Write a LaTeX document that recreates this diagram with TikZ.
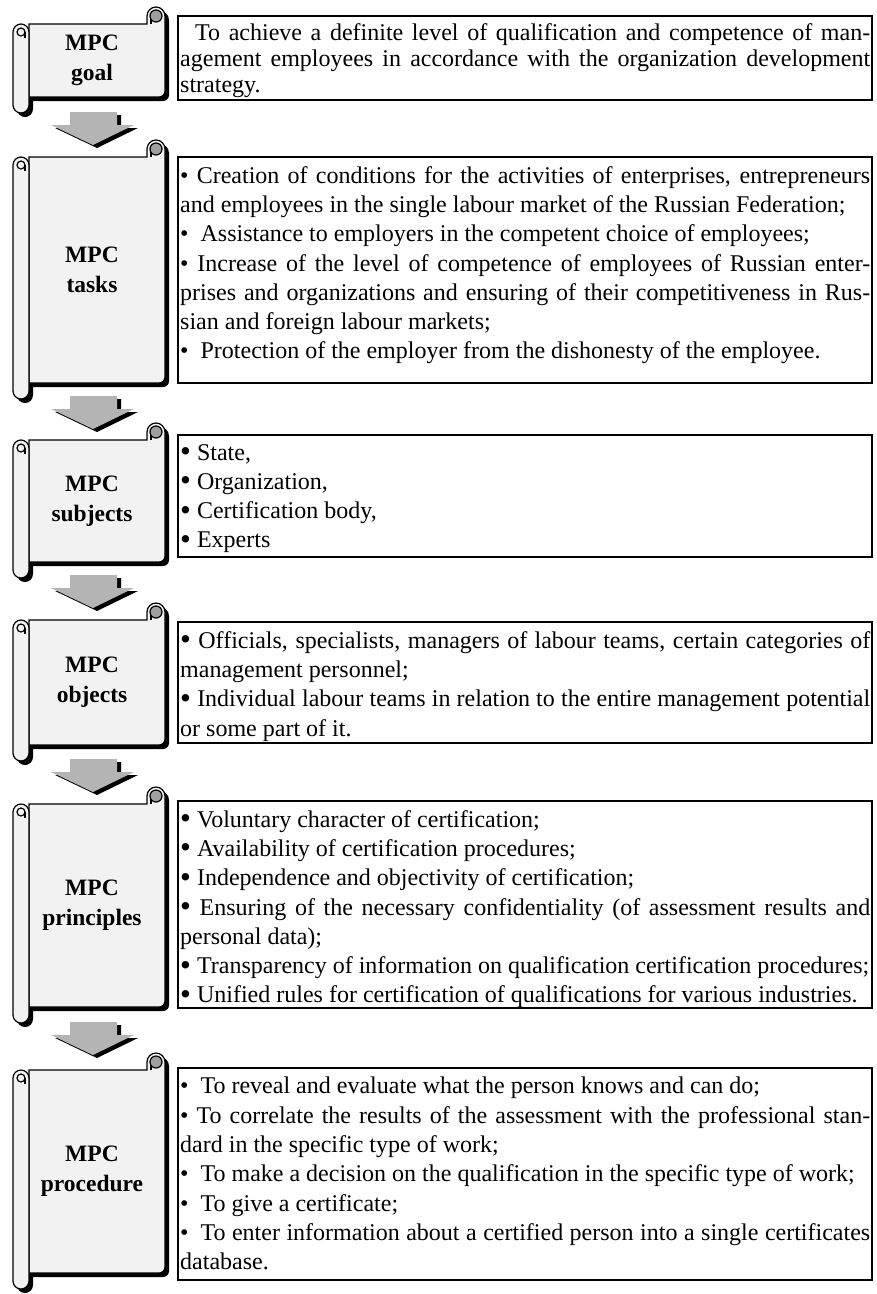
\documentclass[tikz,border=0pt]{standalone}
\usepackage{fontspec}
\setmainfont{Liberation Serif}
\setlength{\parindent}{0pt}
\hyphenpenalty=10000
\definecolor{sheetgray}{RGB}{242,242,242}
\definecolor{curlgray}{RGB}{160,160,160}
\definecolor{arrowgray}{RGB}{180,180,180}

% scroll: name, top of curl, bottom of sheet, label
\newcommand{\mpcscroll}[4]{
  \begin{scope}[shift={(4,-4)}]
    \fill[black] (29,{-#2-17}) -- (147,{-#2-17}) -- (147,{-#2-9}) arc[start angle=180,end angle=0,radius=9] -- (165,{-#3+6}) arc[start angle=0,end angle=-90,radius=6] -- (29,{-#3}) -- cycle;
    \fill[black,rounded corners=8] (13,{-#2-17}) rectangle (29,{-#3-16});
  \end{scope}
  \filldraw[sheet] (29,{-#2-17}) -- (147,{-#2-17}) -- (147,{-#2-9}) arc[start angle=180,end angle=0,radius=9] -- (165,{-#3+6}) arc[start angle=0,end angle=-90,radius=6] -- (29,{-#3}) -- cycle;
  \filldraw[curl] (156,{-#2-9}) circle[radius=6];
  \draw[line width=1.2pt] (151,{-#2-12}) -- (151,{-#2-17});
  \filldraw[sheet,rounded corners=8] (13,{-#2-17}) rectangle (29,{-#3-16});
  \filldraw[sheet] (21,{-#2-25}) circle[radius=4];
  \draw[line width=1.2pt] (25,{-#2-25}) -- (25,{-#2-31});
  \node[mpclabel] (#1) at (92,{-(#2+17+#3)/2}) {#4};
}

% block arrow: top of shaft
\newcommand{\mpcarrow}[1]{
  \begin{scope}[shift={(4,-3)}]
    \fill[black] (70,{-#1}) -- (117,{-#1}) -- (117,{-#1-13}) -- (134,{-#1-13}) -- (93,{-#1-33}) -- (51,{-#1-13}) -- (70,{-#1-13}) -- cycle;
  \end{scope}
  \fill[arrowgray] (70,{-#1}) -- (117,{-#1}) -- (117,{-#1-13}) -- (134,{-#1-13}) -- (93,{-#1-33}) -- (51,{-#1-13}) -- (70,{-#1-13}) -- cycle;
}

% larger bullet of the list boxes
\newcommand{\bigbul}{\raisebox{-1.5pt}{\fontsize{31}{29}\selectfont\textbullet}}

\begin{document}
\begin{tikzpicture}[x=1pt,y=1pt,
    sheet/.style={fill=sheetgray,draw=black,line width=1.2pt},
    curl/.style={fill=curlgray,draw=black,line width=1.2pt},
    mpclabel/.style={align=center,font=\bfseries\fontsize{23.5}{30}\selectfont},
    txtbox/.style={draw=black,line width=1.3pt},
    txt/.style={anchor=north west,text width=690pt,align=justify,inner xsep=2pt,inner ysep=9pt,font=\fontsize{24}{29.3}\selectfont}]
    \useasboundingbox (0,0) rectangle (877,-1294);

    % scrolls and arrows
    \mpcscroll{goal}{7}{97}{MPC\\goal}
    \mpcarrow{112}
    \mpcscroll{tasks}{140}{383}{MPC\\tasks}
    \mpcarrow{396}
    \mpcscroll{subjects}{423}{562}{MPC\\subjects}
    \mpcarrow{575}
    \mpcscroll{objects}{603}{745}{MPC\\objects}
    \mpcarrow{759}
    \mpcscroll{principles}{787}{1007}{MPC\\principles}
    \mpcarrow{1022}
    \mpcscroll{procedure}{1053}{1273}{MPC\\procedure}

    % text boxes
    \draw[txtbox] (178,-16) rectangle (872,-100);
    \node[txt,inner ysep=7pt,font=\fontsize{24}{26}\selectfont] (goaltxt) at (178,-16) {\hspace*{15pt}To achieve a definite level of qualification and competence of man-\linebreak agement employees in accordance with the organization development\linebreak strategy.};

    \draw[txtbox] (178,-157) rectangle (872,-383);
    \node[txt] (taskstxt) at (178,-157) {\textbullet\ Creation of conditions for the activities of enterprises, entrepreneurs\linebreak and employees in the single labour market of the Russian Federation;\par
    \textbullet\enspace Assistance to employers in the competent choice of employees;\par
    \textbullet\ Increase of the level of competence of employees of Russian enter-\linebreak prises and organizations and ensuring of their competitiveness in Rus-\linebreak sian and foreign labour markets;\par
    \textbullet\enspace Protection of the employer from the dishonesty of the employee.};

    \draw[txtbox] (178,-435) rectangle (872,-557);
    \node[txt] (subjectstxt) at (178,-435) {\bigbul\ State,\par
    \bigbul\ Organization,\par
    \bigbul\ Certification body,\par
    \bigbul\ Experts};

    \draw[txtbox] (178,-622) rectangle (872,-743);
    \node[txt] (objectstxt) at (178,-622) {\bigbul\ Officials, specialists, managers of labour teams, certain categories of\linebreak management personnel;\par
    \bigbul\ Individual labour teams in relation to the entire management potential\linebreak or some part of it.};

    \draw[txtbox] (178,-801) rectangle (872,-1008);
    \node[txt] (principlestxt) at (178,-801) {\bigbul\ Voluntary character of certification;\par
    \bigbul\ Availability of certification procedures;\par
    \bigbul\ Independence and objectivity of certification;\par
    \bigbul\ Ensuring of the necessary confidentiality (of assessment results and\linebreak personal data);\par
    \bigbul\ Transparency of information on qualification certification procedures;\par
    \bigbul\ Unified rules for certification of qualifications for various industries.};

    \draw[txtbox] (178,-1068) rectangle (872,-1280);
    \node[txt] (proceduretxt) at (178,-1068) {\textbullet\enspace To reveal and evaluate what the person knows and can do;\par
    \textbullet\ To correlate the results of the assessment with the professional stan-\linebreak dard in the specific type of work;\par
    \textbullet\enspace To make a decision on the qualification in the specific type of work;\par
    \textbullet\enspace To give a certificate;\par
    \textbullet\enspace To enter information about a certified person into a single certificates\linebreak database.};
\end{tikzpicture}
\end{document}
